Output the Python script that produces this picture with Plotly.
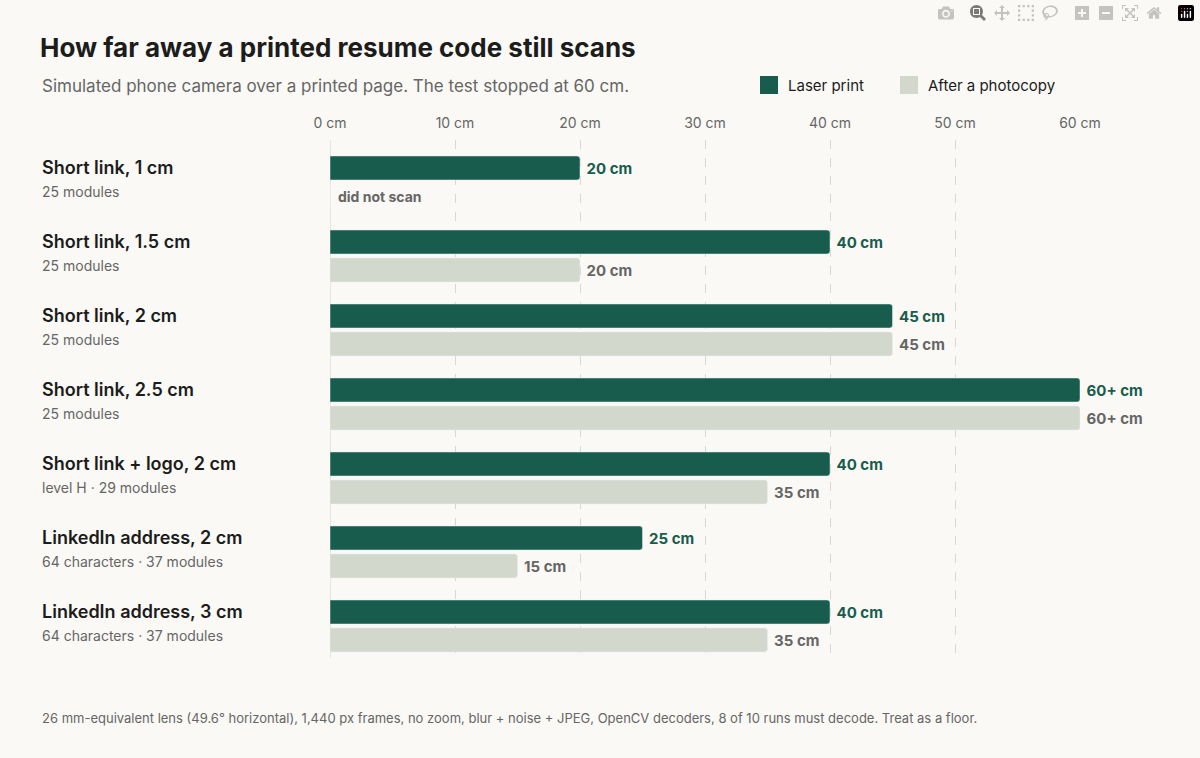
import plotly.graph_objects as go

names = ["Short link, 1 cm", "Short link, 1.5 cm", "Short link, 2 cm", "Short link, 2.5 cm",
         "Short link + logo, 2 cm", "LinkedIn address, 2 cm", "LinkedIn address, 3 cm"]
subs = ["25 modules", "25 modules", "25 modules", "25 modules",
        "level H · 29 modules", "64 characters · 37 modules", "64 characters · 37 modules"]
laser = [20, 40, 45, 60, 40, 25, 40]
photo = [None, 20, 45, 60, 35, 15, 35]
capped = 60
ticks = [0, 10, 20, 30, 40, 50, 60]

W, H = 1200, 758
L, R, T, B = 330, 120, 140, 100
GREEN = "#175c4c"; GREY = "#d3d8cc"; BG = "#faf9f5"
TXT = "#1c1c1c"; MUTED = "#666666"
FONT = "Inter, Noto Sans, sans-serif"

def lab(v):
    return f" {v}+ cm" if v >= capped else f" {v} cm"

ly = [168 + 74 * i for i in range(len(names))]
py = [y + 28 for y in ly]

def PX(p):
    return (p - L) / (W - L - R)

def PY(p):
    return 1 - (p - T) / (H - T - B)

fig = go.Figure()
fig.add_bar(x=laser, y=ly, orientation="h", width=24, marker_color=GREEN,
            text=[lab(v) for v in laser], textposition="outside", cliponaxis=False,
            textfont=dict(color=GREEN, size=15, family=FONT, weight=700), hoverinfo="skip")
fig.add_bar(x=[v if v is not None else 0 for v in photo], y=py, orientation="h", width=24,
            marker_color=GREY, text=[lab(v) if v is not None else "" for v in photo],
            textposition="outside", cliponaxis=False,
            textfont=dict(color=MUTED, size=15, family=FONT, weight=700), hoverinfo="skip")

ann = []
for i, (n, s) in enumerate(zip(names, subs)):
    ann.append(dict(x=PX(40), xref="paper", y=ly[i] - 1, yref="y", text=n, showarrow=False,
                    xanchor="left", yanchor="middle", font=dict(size=18, color=TXT, family=FONT, weight=600)))
    ann.append(dict(x=PX(40), xref="paper", y=ly[i] + 23, yref="y", text=s, showarrow=False,
                    xanchor="left", yanchor="middle", font=dict(size=14, color=MUTED, family=FONT)))
    if photo[i] is None:
        ann.append(dict(x=0, y=py[i], xref="x", yref="y", text="did not scan", showarrow=False,
                        xanchor="left", xshift=6, font=dict(size=14, color=MUTED, family=FONT, weight=700)))

ann += [
    dict(x=PX(786), y=PY(85), xref="paper", yref="paper", text="Laser print", showarrow=False,
         xanchor="left", yanchor="middle", font=dict(size=15, color=TXT, family=FONT)),
    dict(x=PX(926), y=PY(85), xref="paper", yref="paper", text="After a photocopy", showarrow=False,
         xanchor="left", yanchor="middle", font=dict(size=15, color=TXT, family=FONT)),
    dict(x=PX(40), y=PY(718), xref="paper", yref="paper", showarrow=False, xanchor="left", yanchor="middle",
         text="26 mm-equivalent lens (49.6° horizontal), 1,440 px frames, no zoom, blur + noise + JPEG, OpenCV decoders, 8 of 10 runs must decode. Treat as a floor.",
         font=dict(size=13, color=MUTED, family=FONT)),
    dict(x=PX(40), y=PY(86), xref="paper", yref="paper", showarrow=False, xanchor="left", yanchor="middle",
         text="Simulated phone camera over a printed page. The test stopped at 60 cm.",
         font=dict(size=17, color=MUTED, family=FONT)),
]
shapes = [
    dict(type="rect", xref="paper", yref="paper", x0=PX(760), x1=PX(778), y0=PY(94), y1=PY(76),
         fillcolor=GREEN, line_width=0),
    dict(type="rect", xref="paper", yref="paper", x0=PX(900), x1=PX(918), y0=PY(94), y1=PY(76),
         fillcolor=GREY, line_width=0),
    dict(type="line", xref="x", yref="paper", x0=0, x1=0, y0=0, y1=1, line=dict(color="#d8d8d2", width=1.2), layer="below"),
]

fig.update_layout(
    width=W, height=H, margin=dict(l=L, r=R, t=T, b=B), paper_bgcolor=BG, plot_bgcolor=BG,
    showlegend=False, barmode="overlay", barcornerradius=3, font=dict(family=FONT),
    title=dict(text="How far away a printed resume code still scans", x=40 / W, xanchor="left",
               y=1 - 48 / H, yanchor="middle", font=dict(size=26, color=TXT, family=FONT, weight=700)),
    annotations=ann, shapes=shapes,
    xaxis=dict(range=[0, 60], side="top", tickvals=ticks, ticktext=[f"{t} cm" for t in ticks],
               tickfont=dict(size=14, color=MUTED, family=FONT), showgrid=True, gridcolor="#d8d8d2",
               griddash="dash", zeroline=False, showline=False, ticks="", ticklabelstandoff=8),
    yaxis=dict(range=[H - B, T], showticklabels=False, showgrid=False, zeroline=False, fixedrange=True),
)
fig.write_html("out.html")
with open("out.html", encoding="utf-8") as f:
    html = f.read()
html = html.replace("<head>", "<head><style>body{margin:0;background:#faf9f5}</style>", 1)
with open("out.html", "w", encoding="utf-8") as f:
    f.write(html)
